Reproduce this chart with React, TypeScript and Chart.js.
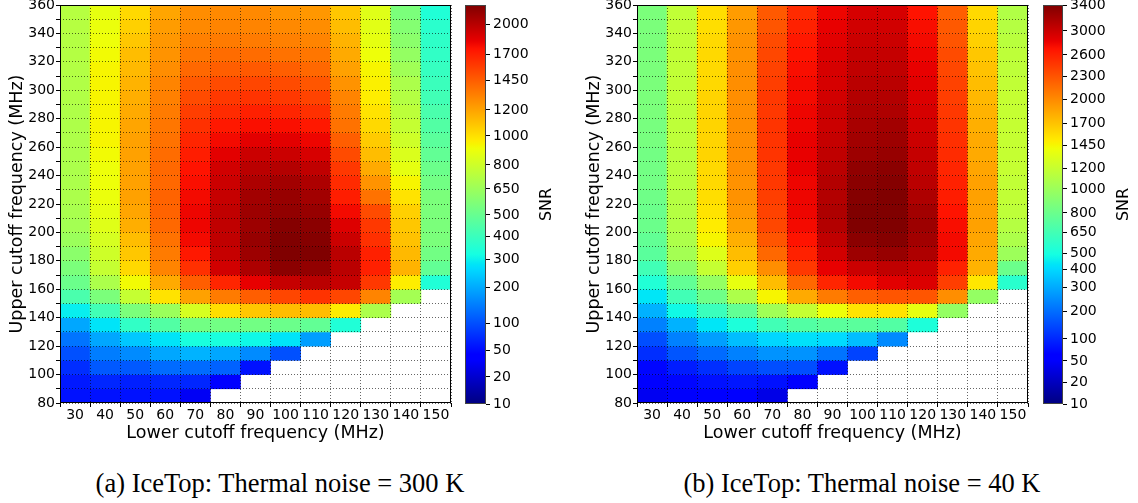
import React, { useEffect, useRef } from "react";
import { Chart, registerables } from "chart.js";

Chart.register(...registerables);

const FONT = "'DejaVu Sans', sans-serif";
Chart.defaults.font.family = FONT;

// x categories: lower cutoff frequency (MHz)
const lowerCutoffs = [30, 40, 50, 60, 70, 80, 90, 100, 110, 120, 130, 140, 150];
// rows, top to bottom: each row spans [upper, upper + 10] MHz
const upperCutoffs = [350, 340, 330, 320, 310, 300, 290, 280, 270, 260, 250, 240, 230, 220, 210, 200, 190, 180, 170, 160, 150, 140, 130, 120, 110, 100, 90, 80];
const yTickValues = [80, 90, 100, 110, 120, 130, 140, 150, 160, 170, 180, 190, 200, 210, 220, 230, 240, 250, 260, 270, 280, 290, 300, 310, 320, 330, 340, 350, 360];

// colour-bar ticks and where they sit on the bar (0 = bottom, 1 = top)
const cbarTicksA = [10, 20, 50, 100, 200, 300, 400, 500, 650, 800, 1000, 1200, 1450, 1700, 2000];
const cbarFracA = [0, 0.068, 0.135, 0.203, 0.293, 0.363, 0.421, 0.474, 0.539, 0.599, 0.672, 0.737, 0.81, 0.877, 0.952];
const snrMaxA = 2200;
const cbarTicksB = [10, 20, 50, 100, 200, 300, 400, 500, 650, 800, 1000, 1200, 1450, 1700, 2000, 2300, 2600, 3000, 3400];
const cbarFracB = [0, 0.053, 0.108, 0.163, 0.233, 0.293, 0.338, 0.378, 0.431, 0.479, 0.539, 0.591, 0.649, 0.704, 0.764, 0.82, 0.875, 0.935, 1];
const snrMaxB = 3400;

// (a) Thermal noise 300 K — SNR per lower-cutoff column, rows top (350) to bottom
const snrA30 = [730, 730, 725, 725, 720, 715, 715, 710, 705, 705, 700, 700, 700, 700, 690, 675, 650, 605, 560, 515, 435, 295, 195, 140, 100, 75, 60, 55];
const snrA40 = [885, 900, 910, 925, 940, 940, 940, 940, 940, 940, 925, 910, 910, 900, 885, 860, 830, 805, 775, 700, 560, 415, 280, 195, 150, 110, 70, 55];
const snrA50 = [1025, 1055, 1085, 1115, 1130, 1150, 1165, 1180, 1195, 1210, 1210, 1210, 1210, 1210, 1195, 1165, 1115, 1085, 1025, 925, 775, 560, 380, 240, 165, 110, 65, 55];
const snrA60 = [1195, 1225, 1245, 1260, 1280, 1315, 1330, 1345, 1365, 1380, 1400, 1415, 1415, 1435, 1435, 1415, 1380, 1345, 1315, 1180, 995, 650, 455, 280, 195, 130, 70, 55];
const snrA70 = [1280, 1295, 1330, 1365, 1415, 1470, 1525, 1580, 1635, 1675, 1710, 1750, 1770, 1790, 1810, 1810, 1790, 1730, 1635, 1450, 1210, 830, 535, 330, 210, 130, 70, 35];
const snrA80 = [1295, 1315, 1345, 1400, 1450, 1525, 1600, 1655, 1730, 1790, 1850, 1910, 1930, 1950, 1970, 1970, 1970, 1950, 1910, 1675, 1345, 1010, 535, 330, 195, 120, 45];
const snrA90 = [1295, 1315, 1345, 1400, 1470, 1545, 1620, 1695, 1770, 1850, 1930, 1990, 2035, 2075, 2095, 2095, 2115, 2095, 2035, 1830, 1450, 1085, 535, 310, 165, 55];
const snrA100 = [1260, 1295, 1330, 1380, 1450, 1525, 1600, 1675, 1770, 1850, 1930, 2010, 2075, 2115, 2135, 2180, 2200, 2200, 2160, 1950, 1545, 1115, 515, 280, 100];
const snrA110 = [1245, 1280, 1315, 1365, 1415, 1485, 1560, 1635, 1730, 1810, 1890, 1970, 2035, 2075, 2115, 2160, 2180, 2200, 2135, 1990, 1620, 1115, 490, 185];
const snrA120 = [1085, 1115, 1150, 1180, 1210, 1260, 1315, 1345, 1380, 1450, 1525, 1600, 1655, 1710, 1790, 1870, 1930, 1990, 1990, 1950, 1545, 965, 345];
const snrA130 = [860, 870, 885, 910, 940, 955, 965, 995, 1025, 1070, 1115, 1180, 1260, 1380, 1525, 1600, 1635, 1695, 1695, 1600, 1315, 700];
const snrA140 = [560, 585, 605, 630, 665, 700, 725, 750, 775, 805, 845, 885, 940, 995, 1055, 1085, 1100, 1130, 1150, 965, 675];
const snrA150 = [345, 365, 375, 380, 390, 400, 415, 435, 455, 475, 490, 515, 535, 560, 560, 560, 560, 535, 490, 345];

// (b) Thermal noise 40 K
const snrB30 = [870, 870, 870, 870, 870, 870, 870, 870, 855, 855, 835, 835, 835, 820, 805, 805, 770, 740, 645, 535, 430, 315, 230, 155, 110, 70, 60, 45];
const snrB40 = [1175, 1175, 1175, 1175, 1175, 1175, 1175, 1160, 1160, 1160, 1140, 1140, 1140, 1120, 1120, 1100, 1080, 1040, 935, 770, 645, 480, 315, 230, 165, 90, 70, 50];
const snrB50 = [1570, 1570, 1590, 1590, 1590, 1590, 1615, 1615, 1615, 1615, 1615, 1590, 1590, 1570, 1545, 1500, 1455, 1325, 1195, 970, 820, 620, 430, 280, 195, 110, 80, 55];
const snrB60 = [1905, 1930, 1955, 1955, 1980, 1980, 1980, 1980, 1980, 1980, 1980, 1980, 1955, 1955, 1930, 1880, 1805, 1730, 1635, 1370, 1080, 770, 520, 340, 230, 140, 85, 55];
const snrB70 = [2275, 2300, 2355, 2380, 2410, 2435, 2465, 2465, 2490, 2490, 2490, 2465, 2465, 2435, 2410, 2380, 2300, 2195, 1980, 1730, 1455, 1025, 645, 395, 260, 155, 80, 40];
const snrB80 = [2545, 2600, 2665, 2700, 2735, 2765, 2765, 2800, 2800, 2835, 2835, 2835, 2800, 2800, 2800, 2765, 2700, 2600, 2465, 2195, 1830, 1195, 710, 420, 260, 155, 60];
const snrB90 = [2800, 2835, 2865, 2900, 2935, 2935, 2965, 3000, 3000, 3030, 3060, 3090, 3125, 3125, 3155, 3125, 3060, 2965, 2835, 2575, 2085, 1410, 740, 405, 210, 80];
const snrB100 = [2935, 2965, 3000, 3030, 3060, 3090, 3125, 3155, 3185, 3215, 3245, 3310, 3340, 3370, 3400, 3400, 3340, 3245, 3000, 2765, 2245, 1545, 740, 340, 140];
const snrB110 = [2935, 2965, 3000, 3030, 3060, 3090, 3125, 3155, 3215, 3245, 3275, 3340, 3370, 3400, 3400, 3400, 3370, 3275, 3060, 2865, 2300, 1545, 710, 245];
const snrB120 = [2700, 2735, 2765, 2800, 2835, 2865, 2900, 2935, 2965, 3000, 3030, 3060, 3090, 3155, 3215, 3245, 3215, 3155, 3000, 2900, 2300, 1370, 520];
const snrB130 = [2245, 2275, 2300, 2355, 2380, 2410, 2435, 2465, 2490, 2520, 2545, 2575, 2600, 2635, 2700, 2735, 2765, 2765, 2600, 2435, 1980, 970];
const snrB140 = [1590, 1615, 1635, 1680, 1705, 1730, 1755, 1780, 1805, 1830, 1830, 1855, 1880, 1880, 1880, 1880, 1855, 1830, 1780, 1525, 970];
const snrB150 = [1100, 1120, 1140, 1160, 1160, 1175, 1195, 1195, 1195, 1195, 1195, 1195, 1175, 1175, 1160, 1120, 1080, 1005, 805, 560];

const columnsA = [snrA30, snrA40, snrA50, snrA60, snrA70, snrA80, snrA90, snrA100, snrA110, snrA120, snrA130, snrA140, snrA150];
const columnsB = [snrB30, snrB40, snrB50, snrB60, snrB70, snrB80, snrB90, snrB100, snrB110, snrB120, snrB130, snrB140, snrB150];

// ---- colour helpers ----
const JET_R: number[][] = [[0, 0], [0.35, 0], [0.66, 1], [0.89, 1], [1, 0.5]];
const JET_G: number[][] = [[0, 0], [0.125, 0], [0.375, 1], [0.64, 1], [0.91, 0], [1, 0]];
const JET_B: number[][] = [[0, 0.5], [0.11, 1], [0.34, 1], [0.65, 0], [1, 0]];
const JET_STOPS = [0, 0.11, 0.125, 0.34, 0.35, 0.375, 0.64, 0.65, 0.66, 0.89, 0.91, 1];

function seg(pts: number[][], f: number): number {
  for (let i = 1; i < pts.length; i++) {
    if (f <= pts[i][0]) {
      const [x0, y0] = pts[i - 1];
      const [x1, y1] = pts[i];
      return y0 + ((f - x0) / (x1 - x0)) * (y1 - y0);
    }
  }
  return pts[pts.length - 1][1];
}
function jetColor(f: number): string {
  const t = Math.max(0, Math.min(1, f));
  const r = Math.round(255 * seg(JET_R, t));
  const g = Math.round(255 * seg(JET_G, t));
  const b = Math.round(255 * seg(JET_B, t));
  return `rgb(${r},${g},${b})`;
}
function makeNorm(ticks: number[], fracs: number[], vmax: number) {
  const vs = ticks.slice();
  const fs = fracs.slice();
  if (vs[vs.length - 1] < vmax) {
    vs.push(vmax);
    fs.push(1);
  }
  return (v: number) => {
    if (v <= vs[0]) return 0;
    for (let i = 1; i < vs.length; i++) {
      if (v <= vs[i]) return fs[i - 1] + ((v - vs[i - 1]) / (vs[i] - vs[i - 1])) * (fs[i] - fs[i - 1]);
    }
    return 1;
  };
}

const HM_W = 460;
const HM_H = 450;
const CB_W = 110;
const CB_H = 420;
const GRID = "rgba(0,0,0,0.6)";

const framePlugin = {
  id: "frame",
  afterDraw(chart: any) {
    const { ctx, chartArea: a } = chart;
    ctx.save();
    ctx.strokeStyle = "#000";
    ctx.lineWidth = 1;
    ctx.strokeRect(Math.round(a.left) + 0.5, Math.round(a.top) + 0.5, Math.round(a.right - a.left) - 1, Math.round(a.bottom - a.top) - 1);
    ctx.restore();
  },
};

function Heatmap({ columns, ticks, fracs, vmax, left }: { columns: number[][]; ticks: number[]; fracs: number[]; vmax: number; left: number }) {
  const ref = useRef<HTMLCanvasElement>(null);
  useEffect(() => {
    const norm = makeNorm(ticks, fracs, vmax);
    const cols = columns.map((c) => upperCutoffs.map((_, i) => (i < c.length ? c[i] : null)));
    const datasets = upperCutoffs.map((u, ri) => ({
      data: cols.map((c) => (c[ri] == null ? null : [u, u + 10])),
      backgroundColor: cols.map((c) => (c[ri] == null ? "rgba(0,0,0,0)" : jetColor(norm(c[ri] as number)))),
      borderWidth: 0,
      barPercentage: 1,
      categoryPercentage: 1,
    }));
    const tickFont = { family: FONT, size: 14 };
    const titleFont = { family: FONT, size: 17.5 };
    const chart = new Chart(ref.current as HTMLCanvasElement, {
      type: "bar",
      data: { labels: lowerCutoffs.map(String), datasets: datasets as any },
      options: {
        animation: false,
        responsive: false,
        devicePixelRatio: 1,
        events: [],
        layout: { padding: { left: 0, top: 5, right: 9, bottom: 0 } },
        plugins: { legend: { display: false }, tooltip: { enabled: false } },
        scales: {
          x: {
            type: "category",
            stacked: true,
            offset: true,
            grid: { offset: true, color: GRID, z: 1, tickLength: 4, tickColor: "#000", tickWidth: 1 },
            border: { display: false, dash: [1, 2] },
            ticks: { font: tickFont, color: "#000", padding: 0, maxRotation: 0, autoSkip: false },
            title: { display: true, text: "Lower cutoff frequency (MHz)", font: titleFont, color: "#000", padding: { top: 0, bottom: 6.5 } },
            afterFit: (s: any) => {
              s.height = 47;
              s.paddingLeft = 0;
              s.paddingRight = 0;
            },
          },
          y: {
            type: "linear",
            min: 80,
            max: 360,
            stacked: false,
            afterBuildTicks: (s: any) => {
              s.ticks = yTickValues.map((value) => ({ value }));
            },
            grid: { color: GRID, z: 1, tickLength: 4, tickColor: "#000", tickWidth: 1 },
            border: { display: false, dash: [1, 2] },
            ticks: {
              font: tickFont,
              color: "#000",
              padding: 1,
              autoSkip: false,
              callback: (v: any) => (Number(v) % 20 === 0 ? String(v) : ""),
            },
            title: { display: true, text: "Upper cutoff frequency (MHz)", font: titleFont, color: "#000", padding: { top: 6.5, bottom: 0 } },
            afterFit: (s: any) => {
              s.width = 60;
              s.paddingTop = 0;
              s.paddingBottom = 0;
            },
          },
        },
      } as any,
      plugins: [framePlugin],
    });
    return () => chart.destroy();
  }, []);
  return <canvas ref={ref} width={HM_W} height={HM_H} style={{ position: "absolute", left, top: 0, width: HM_W, height: HM_H }} />;
}

function Colorbar({ ticks, fracs, left, barW }: { ticks: number[]; fracs: number[]; left: number; barW: number }) {
  const ref = useRef<HTMLCanvasElement>(null);
  useEffect(() => {
    const cbarPlugin = {
      id: "cbar",
      beforeDatasetsDraw(chart: any) {
        const { ctx, chartArea: a } = chart;
        const ys = chart.scales.y;
        const y0 = ys.getPixelForValue(0);
        const y1 = ys.getPixelForValue(1);
        const g = ctx.createLinearGradient(0, y0, 0, y1);
        JET_STOPS.forEach((s) => g.addColorStop(s, jetColor(s)));
        ctx.save();
        ctx.fillStyle = g;
        ctx.fillRect(a.left, a.top, a.right - a.left, a.bottom - a.top);
        ctx.strokeStyle = "#444";
        ctx.lineWidth = 1;
        ctx.strokeRect(a.left + 0.5, a.top + 0.5, a.right - a.left - 1, a.bottom - a.top - 1);
        ctx.restore();
      },
      afterDraw(chart: any) {
        const { ctx, chartArea: a } = chart;
        ctx.save();
        ctx.translate(a.right + 61, (a.top + a.bottom) / 2);
        ctx.rotate(-Math.PI / 2);
        ctx.font = `16px ${FONT}`;
        ctx.fillStyle = "#000";
        ctx.textAlign = "center";
        ctx.textBaseline = "middle";
        ctx.fillText("SNR", 0, 0);
        ctx.restore();
      },
    };
    const chart = new Chart(ref.current as HTMLCanvasElement, {
      type: "bar",
      data: { labels: [""], datasets: [] },
      options: {
        animation: false,
        responsive: false,
        devicePixelRatio: 1,
        events: [],
        layout: { padding: { left: 0, top: 5, right: 0, bottom: CB_H - 404 } },
        plugins: { legend: { display: false }, tooltip: { enabled: false } },
        scales: {
          x: { display: false },
          y: {
            type: "linear",
            position: "right",
            min: 0,
            max: 1,
            afterBuildTicks: (s: any) => {
              s.ticks = fracs.map((value) => ({ value }));
            },
            afterFit: (s: any) => {
              s.width = CB_W - barW;
              s.paddingTop = 0;
              s.paddingBottom = 0;
            },
            ticks: {
              font: { family: FONT, size: 14 },
              color: "#000",
              padding: 3,
              autoSkip: false,
              callback: (_v: any, i: number) => String(ticks[i]),
            },
            grid: { drawOnChartArea: false, tickLength: 4, tickColor: "#000", tickWidth: 1 },
            border: { display: false },
          },
        },
      } as any,
      plugins: [cbarPlugin],
    });
    return () => chart.destroy();
  }, []);
  return <canvas ref={ref} width={CB_W} height={CB_H} style={{ position: "absolute", left, top: 0, width: CB_W, height: CB_H }} />;
}

const captionStyle: React.CSSProperties = {
  position: "absolute",
  top: 467,
  width: 500,
  textAlign: "center",
  fontFamily: "'Liberation Serif', 'Times New Roman', serif",
  fontSize: 26.5,
  lineHeight: "32px",
  color: "#000",
  whiteSpace: "nowrap",
};

export default function App() {
  return (
    <div style={{ position: "fixed", left: 0, top: 0, width: 1138, height: 503, background: "#fff", overflow: "hidden" }}>
      <Heatmap columns={columnsA} ticks={cbarTicksA} fracs={cbarFracA} vmax={snrMaxA} left={0} />
      <Colorbar ticks={cbarTicksA} fracs={cbarFracA} left={465} barW={21} />
      <Heatmap columns={columnsB} ticks={cbarTicksB} fracs={cbarFracB} vmax={snrMaxB} left={577} />
      <Colorbar ticks={cbarTicksB} fracs={cbarFracB} left={1043} barW={20} />
      <div style={{ ...captionStyle, left: 280 - 250 }}>(a) IceTop: Thermal noise = 300 K</div>
      <div style={{ ...captionStyle, left: 862 - 250 }}>(b) IceTop: Thermal noise = 40 K</div>
    </div>
  );
}
